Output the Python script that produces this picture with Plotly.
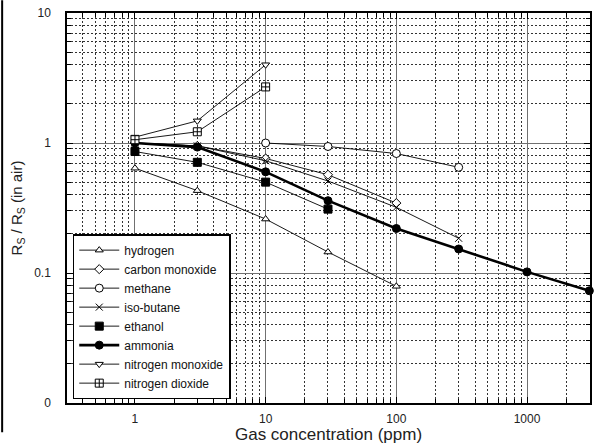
import plotly.graph_objects as go

# ---- data ----
x_hydrogen = [1, 3, 10, 30, 100]
y_hydrogen = [0.64, 0.43, 0.26, 0.145, 0.079]

x_co = [1, 3, 10, 30, 100]
y_co = [1.0, 0.95, 0.76, 0.57, 0.345]

x_methane = [10, 30, 100, 300]
y_methane = [1.0, 0.94, 0.83, 0.65]

x_isobutane = [1, 3, 10, 30, 100, 300]
y_isobutane = [1.0, 0.95, 0.73, 0.51, 0.32, 0.185]

x_ethanol = [1, 3, 10, 30]
y_ethanol = [0.86, 0.71, 0.50, 0.31]

x_ammonia = [1, 3, 10, 30, 100, 300, 1000, 3000]
y_ammonia = [1.0, 0.93, 0.60, 0.36, 0.22, 0.153, 0.102, 0.073]

x_no = [1, 3, 10]
y_no = [1.11, 1.48, 4.0]

x_no2 = [1, 3, 10]
y_no2 = [1.06, 1.22, 2.7]

names = ["hydrogen", "carbon monoxide", "methane", "iso-butane", "ethanol",
         "ammonia", "nitrogen monoxide", "nitrogen dioxide"]

x_ticks = [1, 10, 100, 1000]
x_ticktext = ["1", "10", "100", "1000"]
y_ticks = [0.01, 0.1, 1, 10]
y_ticktext = ["0", "0.1", "1", "10"]

# (x, y, symbol, size, fill, line width)
series = [
    (x_hydrogen, y_hydrogen, "triangle-up", 7, "white", 0.9),
    (x_co, y_co, "diamond", 7, "white", 0.9),
    (x_methane, y_methane, "circle", 8, "white", 0.9),
    (x_isobutane, y_isobutane, "x-thin", 7, "black", 0.9),
    (x_ethanol, y_ethanol, "square", 8, "black", 0.9),
    (x_ammonia, y_ammonia, "circle", 8, "black", 2.6),
    (x_no, y_no, "triangle-down", 7, "white", 0.9),
    (x_no2, y_no2, "square-cross", 8, "white", 0.9),
]

fig = go.Figure()
for (xs, ys, sym, sz, fill, lw), nm in zip(series, names):
    fig.add_trace(go.Scatter(
        x=xs, y=ys, name=nm, mode="lines+markers",
        line=dict(color="black", width=lw),
        marker=dict(symbol=sym, size=sz, color=fill,
                    line=dict(color="black", width=1)),
        cliponaxis=False,
    ))

minor_x = [m * 10 ** e for e in range(-1, 4) for m in range(2, 10)]
minor_y = [m * 10 ** e for e in range(-2, 1) for m in range(2, 10)]

font_main = "Liberation Sans, Arial, sans-serif"

fig.update_layout(
    width=595, height=444,
    margin=dict(l=67, r=5, t=13, b=41, autoexpand=False),
    paper_bgcolor="white", plot_bgcolor="white",
    font=dict(family=font_main, color="#222", size=12),
    showlegend=True,
    legend=dict(
        x=0.011, y=0.433, xanchor="left", yanchor="top",
        bgcolor="white", bordercolor="black", borderwidth=1.5,
        font=dict(size=12, color="#111"),
        itemwidth=40, tracegroupgap=0,
    ),
    xaxis=dict(
        type="log", range=[-0.52, 3.482], automargin=False,
        tickmode="array", tickvals=x_ticks, ticktext=x_ticktext,
        showgrid=True, gridcolor="#707070", gridwidth=1.3,
        ticks="inside", ticklen=6, tickcolor="black",
        showline=True, linecolor="black", linewidth=1.5, mirror="allticks",
        ticklabelstandoff=4,
        zeroline=False,
        minor=dict(tickmode="array", tickvals=minor_x, showgrid=True,
                   gridcolor="#333", griddash="2px,2px", gridwidth=0.7,
                   ticks="inside", ticklen=4, tickcolor="black"),
        title=dict(text="Gas concentration (ppm)", font=dict(size=17, color="#222"),
                   standoff=0),
        tickfont=dict(size=12, color="#222"),
    ),
    yaxis=dict(
        type="log", range=[-2, 1], automargin=False,
        tickmode="array", tickvals=y_ticks, ticktext=y_ticktext,
        showgrid=True, gridcolor="#707070", gridwidth=1.3,
        ticks="inside", ticklen=6, tickcolor="black",
        showline=True, linecolor="black", linewidth=1.5, mirror="allticks",
        ticklabelstandoff=12,
        zeroline=False,
        minor=dict(tickmode="array", tickvals=minor_y, showgrid=True,
                   gridcolor="#333", griddash="2px,2px", gridwidth=0.7,
                   ticks="inside", ticklen=4, tickcolor="black"),
        title=dict(text="R<sub>S</sub> / R<sub>S</sub> (in air)",
                   font=dict(size=15, color="#222"), standoff=8),
        tickfont=dict(size=12, color="#222"),
    ),
)

# left edge scan border line
fig.add_shape(type="line", xref="paper", yref="paper",
              x0=-0.124, x1=-0.124, y0=-0.075, y1=1.033,
              line=dict(color="black", width=2))

fig.write_html("out.html", config={"displayModeBar": False},
               post_script="document.body.style.margin='0px';")
